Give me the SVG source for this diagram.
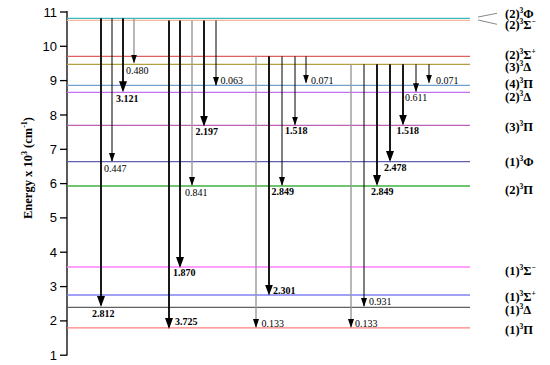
<svg xmlns="http://www.w3.org/2000/svg" width="550" height="365" viewBox="0 0 550 365">
<style>
.tick{font-family:"Liberation Sans",Arial,sans-serif;font-size:13px;fill:#000;text-anchor:end}
.v{font-family:"Liberation Serif","Times New Roman",serif;font-size:10px;fill:#000}
.b{font-family:"Liberation Serif","Times New Roman",serif;font-size:10px;font-weight:bold;fill:#000}
.st{font-family:"Liberation Serif","Times New Roman",serif;font-size:12.5px;font-weight:bold;fill:#000}
.ttl{font-family:"Liberation Serif","Times New Roman",serif;font-size:12.5px;font-weight:bold;fill:#000}
.lv{fill:none;stroke-width:1.3}
.thick{stroke:#000;stroke-width:1.8;fill:none;marker-end:url(#ah)}
.thin{stroke:#000;stroke-width:1;fill:none;marker-end:url(#as)}
.gray{stroke:#999;stroke-width:1.4;fill:none;marker-end:url(#as)}
</style>
<defs>
<marker id="ah" markerUnits="userSpaceOnUse" markerWidth="11" markerHeight="8" viewBox="0 0 11 8" refX="9" refY="4" orient="auto">
<path d="M0,0 L11,4 L0,8 Z" fill="#000"/>
</marker>
<marker id="as" markerUnits="userSpaceOnUse" markerWidth="9" markerHeight="6" viewBox="0 0 9 6" refX="8" refY="3" orient="auto">
<path d="M0,0 L9,3 L0,6 Z" fill="#000"/>
</marker>
</defs>
<rect width="550" height="365" fill="#fff"/>
<g id="axis" stroke="#000" stroke-width="1.3">
<line x1="67" y1="11" x2="67" y2="355.5"/>
<line x1="60" y1="12" x2="67" y2="12"/>
<line x1="60" y1="46.3" x2="67" y2="46.3"/>
<line x1="60" y1="80.6" x2="67" y2="80.6"/>
<line x1="60" y1="115" x2="67" y2="115"/>
<line x1="60" y1="149.3" x2="67" y2="149.3"/>
<line x1="60" y1="183.6" x2="67" y2="183.6"/>
<line x1="60" y1="217.9" x2="67" y2="217.9"/>
<line x1="60" y1="252.2" x2="67" y2="252.2"/>
<line x1="60" y1="286.6" x2="67" y2="286.6"/>
<line x1="60" y1="320.9" x2="67" y2="320.9"/>
<line x1="60" y1="355.2" x2="67" y2="355.2"/>
</g>
<g id="ticklabels">
<text class="tick" x="57" y="16.5">11</text>
<text class="tick" x="57" y="50.8">10</text>
<text class="tick" x="57" y="85.1">9</text>
<text class="tick" x="57" y="119.5">8</text>
<text class="tick" x="57" y="153.8">7</text>
<text class="tick" x="57" y="188.1">6</text>
<text class="tick" x="57" y="222.4">5</text>
<text class="tick" x="57" y="256.7">4</text>
<text class="tick" x="57" y="291.1">3</text>
<text class="tick" x="57" y="325.4">2</text>
<text class="tick" x="57" y="359.7">1</text>
</g>
<text class="ttl" transform="translate(32 168) rotate(-90)" text-anchor="middle">Energy x 10<tspan dy="-5" font-size="8">3</tspan><tspan dy="5"> (cm</tspan><tspan dy="-5" font-size="8">-1</tspan><tspan dy="5">)</tspan></text>
<g id="levels">
<line class="lv" x1="67" y1="18.3" x2="470" y2="18.3" stroke="#3cb8c0"/>
<line class="lv" x1="67" y1="20.4" x2="470" y2="20.4" stroke="#f5b89a"/>
<line class="lv" x1="67" y1="56.3" x2="470" y2="56.3" stroke="#e06060"/>
<line class="lv" x1="67" y1="64.3" x2="470" y2="64.3" stroke="#b0a040"/>
<line class="lv" x1="67" y1="85.3" x2="470" y2="85.3" stroke="#70a0d0"/>
<line class="lv" x1="67" y1="92.3" x2="470" y2="92.3" stroke="#c070f0" stroke-width="1.6"/>
<line class="lv" x1="67" y1="125.3" x2="470" y2="125.3" stroke="#c060b0"/>
<line class="lv" x1="67" y1="161.7" x2="470" y2="161.7" stroke="#6060b0"/>
<line class="lv" x1="67" y1="186" x2="470" y2="186" stroke="#40b040"/>
<line class="lv" x1="67" y1="267" x2="470" y2="267" stroke="#ff80ff" stroke-width="1.8"/>
<line class="lv" x1="67" y1="295" x2="470" y2="295" stroke="#8080f0" stroke-width="1.8"/>
<line class="lv" x1="67" y1="307.3" x2="470" y2="307.3" stroke="#606060"/>
<line class="lv" x1="67" y1="327.8" x2="470" y2="327.8" stroke="#ff8080" stroke-width="1.8"/>
</g>
<g id="leaders" stroke="#888" stroke-width="1">
<line x1="478" y1="17" x2="497" y2="13.3"/>
<line x1="478" y1="20" x2="497" y2="24.3"/>
</g>
<g id="statelabels">
<text class="st" x="505" y="18">(2)<tspan dy="-5" font-size="7.5">3</tspan><tspan dy="5">Φ</tspan></text>
<text class="st" x="505" y="28.5">(2)<tspan dy="-5" font-size="7.5">3</tspan><tspan dy="5">Σ</tspan><tspan dy="-5" font-size="7.5">−</tspan></text>
<text class="st" x="505" y="59">(2)<tspan dy="-5" font-size="7.5">3</tspan><tspan dy="5">Σ</tspan><tspan dy="-5" font-size="7.5">+</tspan></text>
<text class="st" x="505" y="71">(3)<tspan dy="-5" font-size="7.5">3</tspan><tspan dy="5">Δ</tspan></text>
<text class="st" x="505" y="88">(4)<tspan dy="-5" font-size="7.5">3</tspan><tspan dy="5">Π</tspan></text>
<text class="st" x="505" y="101">(2)<tspan dy="-5" font-size="7.5">3</tspan><tspan dy="5">Δ</tspan></text>
<text class="st" x="505" y="131">(3)<tspan dy="-5" font-size="7.5">3</tspan><tspan dy="5">Π</tspan></text>
<text class="st" x="505" y="166">(1)<tspan dy="-5" font-size="7.5">3</tspan><tspan dy="5">Φ</tspan></text>
<text class="st" x="505" y="194">(2)<tspan dy="-5" font-size="7.5">3</tspan><tspan dy="5">Π</tspan></text>
<text class="st" x="505" y="275">(1)<tspan dy="-5" font-size="7.5">3</tspan><tspan dy="5">Σ</tspan><tspan dy="-5" font-size="7.5">−</tspan></text>
<text class="st" x="505" y="301">(1)<tspan dy="-5" font-size="7.5">3</tspan><tspan dy="5">Σ</tspan><tspan dy="-5" font-size="7.5">+</tspan></text>
<text class="st" x="505" y="314">(1)<tspan dy="-5" font-size="7.5">3</tspan><tspan dy="5">Δ</tspan></text>
<text class="st" x="505" y="334">(1)<tspan dy="-5" font-size="7.5">3</tspan><tspan dy="5">Π</tspan></text>
</g>
<g id="connectors">
<line class="thick" x1="101" y1="18.3" x2="101" y2="305"/>
<line class="thin" x1="112" y1="18.3" x2="112" y2="161"/>
<line class="thick" x1="123" y1="18.3" x2="123" y2="90.3"/>
<line class="gray" x1="134" y1="18.3" x2="134" y2="62.5"/>
<line class="thick" x1="169" y1="20.4" x2="169" y2="327"/>
<line class="thick" x1="180" y1="20.4" x2="180" y2="266"/>
<line class="gray" x1="192" y1="20.4" x2="192" y2="185"/>
<line class="thick" x1="204" y1="20.4" x2="204" y2="124.5"/>
<line class="thin" x1="216" y1="20.4" x2="216" y2="85"/>
<line class="gray" x1="256" y1="56.3" x2="256" y2="327"/>
<line class="thick" x1="269" y1="56.3" x2="269" y2="293.5"/>
<line class="thin" x1="282" y1="56.3" x2="282" y2="185"/>
<line class="thin" x1="295" y1="56.3" x2="295" y2="124.5"/>
<line class="thin" x1="306" y1="56.3" x2="306" y2="82.5"/>
<line class="gray" x1="351" y1="64.3" x2="351" y2="327"/>
<line class="thin" x1="364" y1="64.3" x2="364" y2="306"/>
<line class="thick" x1="377" y1="64.3" x2="377" y2="184"/>
<line class="thick" x1="390" y1="64.3" x2="390" y2="160"/>
<line class="thick" x1="403" y1="64.3" x2="403" y2="123.5"/>
<line class="thin" x1="416" y1="64.3" x2="416" y2="91.3"/>
<line class="thin" x1="429" y1="64.3" x2="429" y2="82.5"/>
</g>
<g id="values">
<text class="b" x="92" y="317">2.812</text>
<text class="v" x="104" y="171.5">0.447</text>
<text class="b" x="116" y="102">3.121</text>
<text class="v" x="126" y="74">0.480</text>
<text class="b" x="175" y="325">3.725</text>
<text class="b" x="173" y="276">1.870</text>
<text class="v" x="185" y="196">0.841</text>
<text class="b" x="195.5" y="135">2.197</text>
<text class="v" x="220.5" y="83.5">0.063</text>
<text class="v" x="261.5" y="326.5">0.133</text>
<text class="b" x="273" y="294">2.301</text>
<text class="b" x="271.5" y="195">2.849</text>
<text class="b" x="285" y="134">1.518</text>
<text class="v" x="311" y="83.5">0.071</text>
<text class="v" x="355" y="326.5">0.133</text>
<text class="v" x="369" y="305">0.931</text>
<text class="b" x="371" y="195">2.849</text>
<text class="b" x="384" y="170.5">2.478</text>
<text class="b" x="396.5" y="133.5">1.518</text>
<text class="v" x="405" y="100.5">0.611</text>
<text class="v" x="436" y="83.5">0.071</text>
</g>
</svg>
